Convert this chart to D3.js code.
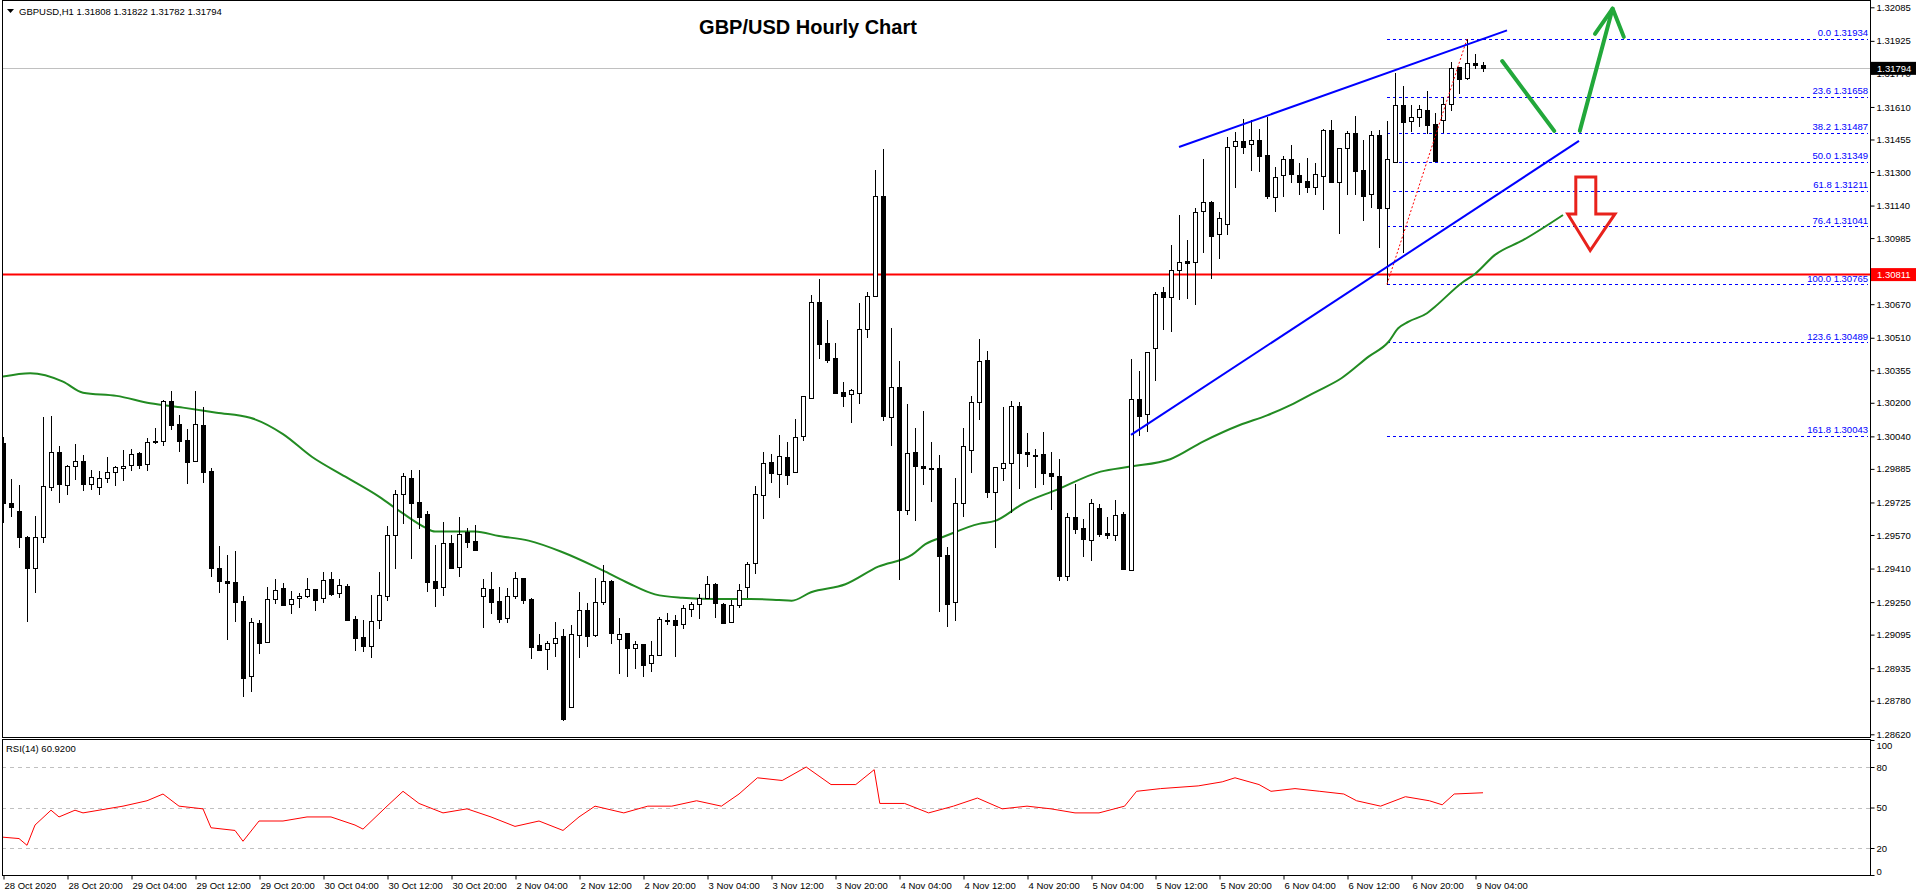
<!DOCTYPE html>
<html>
<head>
<meta charset="utf-8">
<script src="https://cdn.jsdelivr.net/npm/d3@7"></script>
<style>
    body { margin: 0; background: #fff; }
    svg { display: block; font-family: "Liberation Sans", Arial, sans-serif; }
    .axis text { font-size: 9.5px; fill: #000; }
    .axis path { display: none; }
    .axis line { stroke: #000; }
</style>
</head>
<body>
<svg id="chart" width="1916" height="896"></svg>
<script>
// GBPUSD H1 bars, 28 Oct 2020 12:00 .. 9 Nov 2020 05:00
var opens = [
    1.30009,1.29723,1.29684,1.29561,1.29413,1.29561,1.29799,1.29965,1.29808,1.29899,
    1.29923,1.29813,1.29799,1.29842,1.29870,1.29890,1.29904,1.29961,1.29909,1.30018,
    1.30018,1.30209,1.30099,1.30023,1.29923,1.30094,1.29875,1.29413,1.29351,1.29346,
    1.29255,1.28898,1.29150,1.29060,1.29265,1.29317,1.29241,1.29269,1.29279,1.29313,
    1.29269,1.29361,1.29294,1.29327,1.29170,1.29084,1.29041,1.29165,1.29279,1.29570,
    1.29766,1.29842,1.29727,1.29670,1.29351,1.29322,1.29532,1.29418,1.29584,1.29541,
    1.29279,1.29313,1.29255,1.29175,1.29279,1.29365,1.29265,1.29046,1.29027,1.29056,
    1.29089,1.28751,1.29094,1.29213,1.29094,1.29250,1.29351,1.29074,1.29103,1.29032,
    1.29051,1.28960,1.28998,1.29160,1.29165,1.29146,1.29217,1.29241,1.29269,1.29337,
    1.29241,1.29155,1.29236,1.29322,1.29437,1.29761,1.29918,1.29861,1.29942,1.29870,
    1.30042,1.30223,1.30680,1.30485,1.30414,1.30251,1.30242,1.30247,1.30552,1.30709,
    1.31186,1.30133,1.30276,1.29689,1.29965,1.29899,1.29890,1.29890,1.29475,1.29250,
    1.29723,1.29975,1.30204,1.30404,1.29775,1.29890,1.29913,1.30185,1.29965,1.29951,
    1.29956,1.29866,1.29852,1.29375,1.29656,1.29604,1.29546,1.29699,1.29580,1.29570,
    1.29670,1.29403,1.30218,1.30147,1.30461,1.30728,1.30704,1.30833,1.30876,1.30871,
    1.31114,1.31157,1.31005,1.31052,1.31424,1.31448,1.31434,1.31453,1.31381,1.31181,
    1.31286,1.31362,1.31286,1.31257,1.31229,1.31281,1.31500,1.31253,1.31415,1.31486,
    1.31310,1.31195,1.31477,1.31129,1.31348,1.31620,1.31543,1.31562,1.31596,1.31529,
    1.31548,1.31624,1.31801,1.31748,1.31820,1.31808
];
var highs = [
    1.30038,1.29837,1.29808,1.29565,1.29660,1.30133,1.30137,1.29994,1.29904,1.30004,
    1.29951,1.29880,1.29875,1.29942,1.29899,1.29975,1.29980,1.29965,1.30033,1.30080,
    1.30214,1.30256,1.30142,1.30075,1.30256,1.30181,1.29890,1.29517,1.29475,1.29494,
    1.29279,1.29175,1.29165,1.29322,1.29360,1.29342,1.29303,1.29294,1.29365,1.29313,
    1.29394,1.29394,1.29361,1.29337,1.29184,1.29165,1.29284,1.29394,1.29613,1.29785,
    1.29866,1.29880,1.29880,1.29684,1.29522,1.29632,1.29570,1.29656,1.29604,1.29618,
    1.29360,1.29394,1.29322,1.29317,1.29394,1.29365,1.29269,1.29098,1.29065,1.29155,
    1.29122,1.29141,1.29298,1.29246,1.29365,1.29427,1.29356,1.29175,1.29103,1.29065,
    1.29051,1.29065,1.29179,1.29198,1.29189,1.29236,1.29250,1.29289,1.29374,1.29342,
    1.29246,1.29260,1.29337,1.29441,1.29804,1.29965,1.29956,1.30047,1.30013,1.30123,
    1.30233,1.30714,1.30790,1.30595,1.30485,1.30299,1.30266,1.30676,1.30728,1.31310,
    1.31410,1.30557,1.30399,1.30194,1.30080,1.30161,1.30013,1.29951,1.29513,1.29842,
    1.30080,1.30233,1.30504,1.30447,1.29895,1.30181,1.30209,1.30204,1.30056,1.29980,
    1.30061,1.29965,1.29932,1.29675,1.29813,1.29646,1.29742,1.29718,1.29656,1.29737,
    1.29680,1.30409,1.30351,1.30442,1.30728,1.30752,1.30952,1.31095,1.30976,1.31129,
    1.31362,1.31162,1.31110,1.31467,1.31491,1.31553,1.31548,1.31505,1.31562,1.31324,
    1.31376,1.31429,1.31343,1.31367,1.31343,1.31505,1.31548,1.31415,1.31496,1.31567,
    1.31453,1.31496,1.31500,1.31543,1.31772,1.31710,1.31620,1.31620,1.31686,1.31581,
    1.31658,1.31825,1.31801,1.31934,1.31863,1.31822
];
var lows = [
    1.29632,1.29660,1.29513,1.29160,1.29298,1.29536,1.29785,1.29727,1.29766,1.29837,
    1.29785,1.29790,1.29766,1.29823,1.29808,1.29832,1.29880,1.29890,1.29880,1.30009,
    1.29999,1.30075,1.29970,1.29818,1.29923,1.29823,1.29374,1.29298,1.29074,1.29160,
    1.28802,1.28826,1.29008,1.29060,1.29246,1.29236,1.29198,1.29227,1.29274,1.29213,
    1.29250,1.29284,1.29274,1.29165,1.29022,1.29017,1.28989,1.29127,1.29260,1.29413,
    1.29628,1.29460,1.29604,1.29303,1.29231,1.29284,1.29413,1.29374,1.29513,1.29499,
    1.29132,1.29198,1.29155,1.29155,1.29269,1.29246,1.28984,1.29022,1.28932,1.28994,
    1.28688,1.28751,1.28989,1.29041,1.29089,1.29241,1.29056,1.28913,1.28898,1.28937,
    1.28898,1.28922,1.28998,1.29146,1.28994,1.29127,1.29184,1.29175,1.29269,1.29179,
    1.29150,1.29155,1.29227,1.29274,1.29389,1.29651,1.29823,1.29751,1.29813,1.29870,
    1.30023,1.30223,1.30413,1.30394,1.30247,1.30185,1.30108,1.30200,1.30514,1.30709,
    1.30118,1.29999,1.29360,1.29670,1.29642,1.29813,1.29732,1.29208,1.29136,1.29165,
    1.29660,1.29870,1.30123,1.29751,1.29513,1.29832,1.29680,1.29794,1.29899,1.29799,
    1.29813,1.29694,1.29356,1.29356,1.29580,1.29470,1.29451,1.29565,1.29556,1.29546,
    1.29408,1.29403,1.30047,1.30066,1.30309,1.30552,1.30542,1.30695,1.30700,1.30671,
    1.30919,1.30795,1.30890,1.31005,1.31229,1.31391,1.31310,1.31305,1.31176,1.31114,
    1.31186,1.31253,1.31195,1.31205,1.31195,1.31124,1.31253,1.31009,1.31195,1.31195,
    1.31071,1.31133,1.30943,1.30765,1.31348,1.30919,1.31496,1.31519,1.31486,1.31353,
    1.31491,1.31596,1.31677,1.31743,1.31796,1.31782
];
var closes = [
    1.29723,1.29704,1.29561,1.29413,1.29561,1.29803,1.29965,1.29813,1.29899,1.29923,
    1.29813,1.29847,1.29842,1.29870,1.29895,1.29899,1.29956,1.29904,1.30013,1.30011,
    1.30209,1.30094,1.30018,1.29918,1.30099,1.29870,1.29413,1.29351,1.29342,1.29250,
    1.28889,1.29155,1.29056,1.29265,1.29308,1.29236,1.29265,1.29279,1.29313,1.29260,
    1.29356,1.29289,1.29332,1.29165,1.29079,1.29041,1.29160,1.29284,1.29570,1.29766,
    1.29852,1.29723,1.29656,1.29346,1.29317,1.29532,1.29413,1.29575,1.29536,1.29499,
    1.29317,1.29250,1.29170,1.29279,1.29365,1.29260,1.29036,1.29022,1.29056,1.29079,
    1.28693,1.29098,1.29213,1.29089,1.29250,1.29351,1.29103,1.29098,1.29032,1.29051,
    1.28950,1.28998,1.29170,1.29165,1.29141,1.29222,1.29241,1.29269,1.29337,1.29246,
    1.29150,1.29236,1.29308,1.29432,1.29766,1.29913,1.29866,1.29947,1.29856,1.30037,
    1.30233,1.30680,1.30480,1.30404,1.30247,1.30233,1.30261,1.30552,1.30709,1.31186,
    1.30137,1.30276,1.29689,1.29961,1.29899,1.29890,1.29887,1.29470,1.29241,1.29723,
    1.29994,1.30204,1.30399,1.29775,1.29895,1.29913,1.30185,1.29961,1.29956,1.29947,
    1.29866,1.29852,1.29375,1.29656,1.29599,1.29551,1.29723,1.29575,1.29570,1.29665,
    1.29408,1.30218,1.30137,1.30442,1.30719,1.30704,1.30833,1.30871,1.30866,1.31110,
    1.31157,1.30995,1.31081,1.31419,1.31448,1.31419,1.31453,1.31377,1.31186,1.31276,
    1.31362,1.31290,1.31253,1.31229,1.31290,1.31500,1.31253,1.31415,1.31486,1.31305,
    1.31186,1.31477,1.31129,1.31362,1.31620,1.31539,1.31562,1.31600,1.31524,1.31353,
    1.31624,1.31796,1.31743,1.31820,1.31810,1.31794
];

// moving average (shifted forward), read at bar positions
var maIdx = [0, 3.4, 7.5, 10, 14.2, 18.4, 22.5, 26.7, 30.9, 35, 38.6, 42.8, 47, 49.9, 52.8, 54, 59, 62,
             65.7, 69.8, 74, 75.3, 78.2, 81.5, 84.9, 89, 93.4, 97, 98.6, 101, 105.3, 109.4, 113.6, 115.3,
             117.8, 122, 124, 127.6, 131.7, 137.2, 140.9, 145.9, 150, 154.6, 158, 161, 164, 167.3, 170.7,
             173.2, 174.4, 175.7, 178, 179, 182.3, 184, 186.5, 190, 195];
var maVal = [1.30325, 1.30341, 1.30301, 1.30248, 1.30233, 1.30198, 1.30177, 1.30153, 1.30129, 1.30051,
             1.29943, 1.29848, 1.29753, 1.29675, 1.29605, 1.29586, 1.29586, 1.29565, 1.29543, 1.29490,
             1.29419, 1.29395, 1.29340, 1.29287, 1.29271, 1.29265, 1.29265, 1.29260, 1.29257, 1.29297,
             1.29335, 1.29419, 1.29475, 1.29526, 1.29565, 1.29623, 1.29637, 1.29721, 1.29785, 1.29872,
             1.29896, 1.29931, 1.30015, 1.30094, 1.30140, 1.30190, 1.30250, 1.30317, 1.30420, 1.30491,
             1.30555, 1.30587, 1.30627, 1.30658, 1.30770, 1.30814, 1.30905, 1.30975, 1.31095];

// RSI(14)
var rsiIdx = [0, 2, 3, 4, 6, 7, 9, 10, 12, 15, 18, 20, 22, 25, 26, 29, 30, 32, 35, 38, 41, 44, 45, 48, 50,
              52, 55, 58, 61, 64, 67, 70, 72, 74, 77.6, 80.6, 83.6, 86.7, 89.8, 92, 94.3, 97.4, 100.4,
              103.5, 106.6, 108.9, 109.6, 112.7, 115.7, 118.8, 121.8, 124.9, 128, 131, 134, 137, 140.2,
              141.7, 144.7, 149.4, 152.4, 154, 157, 158.5, 161.5, 164.6, 167.6, 169.2, 172.2, 175.3,
              178.3, 179.9, 181.4, 185];
var rsiVal = [28, 27, 22, 37, 48, 43, 48, 46, 48, 51, 55, 60, 51, 49, 35, 33, 25, 40, 40, 43, 43, 37, 34,
              51, 62, 53, 46, 49, 43, 36, 40, 33, 43, 51, 46, 51, 51, 55, 51, 60, 72, 70, 80, 67, 67, 78,
              53, 53, 46, 51, 57, 49, 51, 49, 46, 46, 51, 62, 64, 66, 69, 72, 67, 62, 64, 62, 60, 55, 51,
              58, 55, 52, 60, 60.92];

var priceTicks = [1.32085, 1.31925, 1.31770, 1.31610, 1.31455, 1.31300, 1.31140, 1.30985, 1.30830,
                  1.30670, 1.30510, 1.30355, 1.30200, 1.30040, 1.29885, 1.29725, 1.29570, 1.29410,
                  1.29250, 1.29095, 1.28935, 1.28780, 1.28620];
var rsiTicks = [100, 80, 50, 20, 0];
var rsiLevels = [80, 50, 20];
var timeLabels = ["28 Oct 2020", "28 Oct 20:00", "29 Oct 04:00", "29 Oct 12:00", "29 Oct 20:00",
                  "30 Oct 04:00", "30 Oct 12:00", "30 Oct 20:00", "2 Nov 04:00", "2 Nov 12:00",
                  "2 Nov 20:00", "3 Nov 04:00", "3 Nov 12:00", "3 Nov 20:00", "4 Nov 04:00",
                  "4 Nov 12:00", "4 Nov 20:00", "5 Nov 04:00", "5 Nov 12:00", "5 Nov 20:00",
                  "6 Nov 04:00", "6 Nov 12:00", "6 Nov 20:00", "9 Nov 04:00"];

// fibonacci retracement from the 6 Nov low to the 9 Nov high
var fibLevels = ["0.0", "23.6", "38.2", "50.0", "61.8", "76.4", "100.0", "123.6", "161.8"];
var fibPrices = [1.31934, 1.31658, 1.31487, 1.31349, 1.31211, 1.31041, 1.30765, 1.30489, 1.30043];
var fibFrom = 173, fibTo = 183;

var supportLevel = 1.30811;
var lastPrice = 1.31794;
var header = ["GBPUSD,H1", "1.31808", "1.31822", "1.31782", "1.31794"];

// hand drawn trend lines and arrows, as [bar, price] pairs
var upperTrend = [[147, 1.31419], [188, 1.31975]];
var lowerTrend = [[141, 1.30047], [197, 1.31448]];
var arrowDown = [[187.4, 1.31829], [193.9, 1.31496]];
var arrowUp = [[197.1, 1.31496], [201.2, 1.32079]];
var arrowUpHead = [[199.0, 1.31958], [201.2, 1.32079], [202.6, 1.31944]];
var redArrow = [[196.6, 1.31276], [199.1, 1.31276], [199.1, 1.31100], [201.5, 1.31100],
                [198.4, 1.30926], [195.6, 1.31100], [196.6, 1.31100]];


var svg = d3.select("#chart");
var plotLeft = 2, plotRight = 1870, mainBottom = 737, rsiTop = 739, rsiBottom = 875;

var x = d3.scaleLinear().domain([0, 1]).range([3, 11]);   // 8 px per bar
var y = d3.scaleLinear().domain([1.28620, 1.32085]).range([734.3, 7.3]);
var yRsi = d3.scaleLinear().domain([0, 100]).range([875, 740]);

function px(v) { return Math.round(v) + 0.5; }
function pt(p) { return [x(p[0]), y(p[1])]; }

var defs = svg.append("defs");
defs.append("clipPath").attr("id", "clipMain").append("rect")
    .attr("x", plotLeft + 1).attr("y", 1).attr("width", plotRight - plotLeft - 1).attr("height", mainBottom - 1);
defs.append("clipPath").attr("id", "clipRsi").append("rect")
    .attr("x", plotLeft + 1).attr("y", rsiTop + 1).attr("width", plotRight - plotLeft - 1).attr("height", rsiBottom - rsiTop - 1);

var main = svg.append("g").attr("clip-path", "url(#clipMain)");

// fibonacci lines
var fibX1 = x(fibFrom), fibX2 = plotRight - 2;
main.selectAll("line.fib").data(fibPrices).enter().append("line")
    .attr("class", "fib")
    .attr("x1", fibX1).attr("x2", fibX2)
    .attr("y1", function(d) { return px(y(d)); })
    .attr("y2", function(d) { return px(y(d)); })
    .attr("stroke", "#0000ff").attr("stroke-dasharray", "3,3");
main.selectAll("text.fib").data(fibPrices).enter().append("text")
    .attr("class", "fib")
    .attr("x", plotRight - 2)
    .attr("y", function(d) { return y(d) - 2.5; })
    .attr("text-anchor", "end")
    .attr("font-size", "9.5px")
    .attr("fill", "#0000ff")
    .text(function(d, k) { return fibLevels[k] + " " + d.toFixed(5); });

// current price line
main.append("line")
    .attr("x1", plotLeft).attr("x2", plotRight)
    .attr("y1", px(y(lastPrice))).attr("y2", px(y(lastPrice)))
    .attr("stroke", "#c0c0c0");

// support line
main.append("line")
    .attr("x1", plotLeft).attr("x2", plotRight)
    .attr("y1", y(supportLevel)).attr("y2", y(supportLevel))
    .attr("stroke", "#ff0000").attr("stroke-width", 2);

// moving average
var maLine = d3.line()
    .x(function(d) { return x(d[0]); })
    .y(function(d) { return y(d[1]); })
    .curve(d3.curveMonotoneX);
main.append("path")
    .datum(maIdx.map(function(d, k) { return [d, maVal[k]]; }))
    .attr("d", maLine)
    .attr("fill", "none").attr("stroke", "#228b22").attr("stroke-width", 2);

// candles
var bars = d3.range(opens.length).map(function(i) {
    return {i: i, o: opens[i], h: highs[i], l: lows[i], c: closes[i]};
});
main.selectAll("line.wick").data(bars).enter().append("line")
    .attr("class", "wick")
    .attr("x1", function(d) { return px(x(d.i)); })
    .attr("x2", function(d) { return px(x(d.i)); })
    .attr("y1", function(d) { return Math.round(y(d.h)); })
    .attr("y2", function(d) { return Math.round(y(d.l)) + 1; })
    .attr("stroke", "#000");
main.selectAll("rect.body").data(bars).enter().append("rect")
    .attr("class", "body")
    .attr("x", function(d) { return Math.round(x(d.i)) - 2 + 0.5; })
    .attr("y", function(d) { return px(y(Math.max(d.o, d.c))); })
    .attr("width", 4)
    .attr("height", function(d) { return Math.max(1, Math.round(Math.abs(y(d.o) - y(d.c)))); })
    .attr("fill", function(d) { return d.c >= d.o ? "#fff" : "#000"; })
    .attr("stroke", "#000");

// fib trend line (dotted red)
main.append("line")
    .attr("x1", x(fibFrom)).attr("y1", y(fibPrices[6]))
    .attr("x2", x(fibTo)).attr("y2", y(fibPrices[0]))
    .attr("stroke", "#ff0000").attr("stroke-dasharray", "2,2");

// channel lines
[upperTrend, lowerTrend].forEach(function(t) {
    main.append("line")
        .attr("x1", x(t[0][0])).attr("y1", y(t[0][1]))
        .attr("x2", x(t[1][0])).attr("y2", y(t[1][1]))
        .attr("stroke", "#0000ff").attr("stroke-width", 2);
});

// arrows
var green = "#22a83a";
[arrowDown, arrowUp, arrowUpHead].forEach(function(a) {
    main.append("polyline")
        .attr("points", a.map(pt).join(" "))
        .attr("fill", "none").attr("stroke", green).attr("stroke-width", 4)
        .attr("stroke-linecap", "round").attr("stroke-linejoin", "round");
});
main.append("polygon")
    .attr("points", redArrow.map(pt).join(" "))
    .attr("fill", "none").attr("stroke", "#e8221c").attr("stroke-width", 3)
    .attr("stroke-linejoin", "miter");

// RSI panel
var rsiG = svg.append("g").attr("clip-path", "url(#clipRsi)");
rsiG.selectAll("line.level").data(rsiLevels).enter().append("line")
    .attr("x1", plotLeft).attr("x2", plotRight)
    .attr("y1", function(d) { return px(yRsi(d)); })
    .attr("y2", function(d) { return px(yRsi(d)); })
    .attr("stroke", "#c0c0c0").attr("stroke-dasharray", "4,4");
rsiG.append("path")
    .datum(rsiIdx.map(function(d, k) { return [d, rsiVal[k]]; }))
    .attr("d", d3.line().x(function(d) { return x(d[0]); }).y(function(d) { return yRsi(d[1]); }))
    .attr("fill", "none").attr("stroke", "#ff0000");

// frames
svg.append("rect").attr("x", plotLeft + 0.5).attr("y", 0.5)
    .attr("width", plotRight - plotLeft).attr("height", mainBottom)
    .attr("fill", "none").attr("stroke", "#000");
svg.append("rect").attr("x", plotLeft + 0.5).attr("y", rsiTop + 0.5)
    .attr("width", plotRight - plotLeft).attr("height", rsiBottom - rsiTop)
    .attr("fill", "none").attr("stroke", "#000");

// price axis (the 1.30830 label sits under the red tag)
svg.append("g").attr("class", "axis")
    .attr("transform", "translate(" + (plotRight + 0.5) + ",0)")
    .call(d3.axisRight(y).tickValues(priceTicks).tickSize(4).tickPadding(2)
        .tickFormat(function(d) { return d === 1.30830 ? "" : d.toFixed(5); }));

// rsi axis
var rsiAxis = svg.append("g").attr("class", "axis")
    .attr("transform", "translate(" + (plotRight + 0.5) + ",0)")
    .call(d3.axisRight(yRsi).tickValues(rsiTicks).tickSize(4).tickPadding(2));
rsiAxis.selectAll("text").attr("dy", function(d) { return d === 100 ? "0.9em" : d === 0 ? "-0.1em" : "0.32em"; });

// time axis
var timeAxis = svg.append("g").attr("class", "axis")
    .attr("transform", "translate(0," + (rsiBottom + 0.5) + ")")
    .call(d3.axisBottom(x).tickValues(timeLabels.map(function(d, k) { return k * 8; }))
        .tickSize(4).tickFormat(function(d, k) { return timeLabels[k]; }));
timeAxis.selectAll(".tick line").attr("transform", "translate(0.5,0)");
timeAxis.selectAll("text").attr("text-anchor", "start").attr("x", 1).attr("y", 7);

// price tags on the axis
function tag(price, bg) {
    var g = svg.append("g");
    g.append("rect").attr("x", plotRight + 1).attr("y", y(price) - 6.5)
        .attr("width", 1916 - plotRight - 1).attr("height", 13).attr("fill", bg);
    g.append("text").attr("x", plotRight + 7).attr("y", y(price) + 3.5)
        .attr("font-size", "9.5px").attr("fill", "#fff").text(price.toFixed(5));
}
tag(lastPrice, "#000");
tag(supportLevel, "#ff0000");

// header texts
svg.append("path").attr("d", "M7,9 L14,9 L10.5,13 Z").attr("fill", "#000");
svg.append("text").attr("x", 19).attr("y", 14.5).attr("font-size", "9.5px")
    .text(header[0] + "  " + header.slice(1).join(" "));
svg.append("text").attr("x", 6).attr("y", 752).attr("font-size", "9.5px")
    .text("RSI(14) " + rsiVal[rsiVal.length - 1].toFixed(4));

svg.append("text")
    .attr("x", 808).attr("y", 34)
    .attr("text-anchor", "middle")
    .attr("font-size", "20px").attr("font-weight", "bold")
    .text("GBP/USD Hourly Chart");
</script>
</body>
</html>
